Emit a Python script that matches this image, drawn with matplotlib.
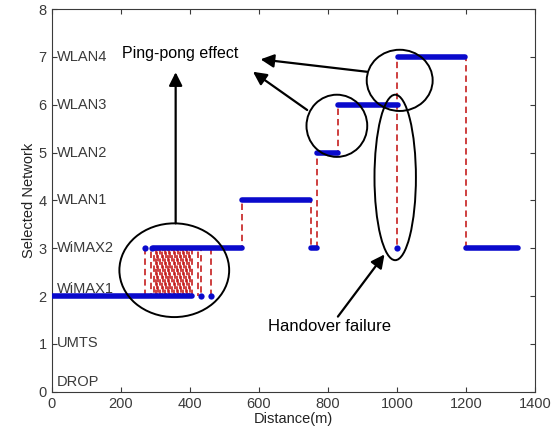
import matplotlib
matplotlib.use("Agg")
import matplotlib.pyplot as plt
from matplotlib.patches import Ellipse

# network names for levels 0..7
NETWORKS   = ["DROP", "UMTS", "WiMAX1", "WiMAX2", "WLAN1", "WLAN2", "WLAN3", "WLAN4"]
NET_LABEL_Y = [0.2, 1.02, 2.14, 3.0, 4.0, 5.0, 6.0, 7.0]

# selected-network runs: start distance, end distance, network level
SEG_START = [0,   297, 550, 752, 768, 830,  1003, 1200]
SEG_END   = [405, 550, 748, 768, 830, 1003, 1198, 1350]
SEG_LEVEL = [2,   3,   4,   3,   5,   6,    7,    3]

# isolated samples
DOT_X = [270, 290, 432, 462, 1000]
DOT_Y = [3,   3,   2,   2,   3]

# handovers: distance, from level, to level
HO_X  = [270, 287, 296, 301, 306, 309, 314, 318, 323, 327, 331, 336, 340, 344,
         349, 353, 357, 362, 366, 371, 375, 380, 384, 389, 393, 398, 402, 407,
         424, 433, 461, 550, 750, 768, 830, 1000, 1200]
HO_LO = [2] * 31 + [3, 3, 3, 5, 3, 3]
HO_HI = [3] * 31 + [4, 4, 5, 6, 7, 7]

X_TICKS = [0, 200, 400, 600, 800, 1000, 1200, 1400]
Y_TICKS = [0, 1, 2, 3, 4, 5, 6, 7, 8]

BLUE = "#0a0acc"
RED  = "#c41515"
GREY = "#3a3a3a"
TICK_FONT = ["Liberation Sans Narrow", "Liberation Sans", "DejaVu Sans"]

fig = plt.figure(figsize=(5.58, 4.34), dpi=100)
ax = fig.add_axes([0.0927, 0.0975, 0.8661, 0.8815])

# dashed handover lines, phase shifted so the ping-pong block is not striped
for i, (x, lo, hi) in enumerate(zip(HO_X, HO_LO, HO_HI)):
    ax.vlines(x, lo, hi, colors=RED, linestyles=((i % 3) * 2.2, (4, 2.5)),
              lw=1.15, zorder=2)
ax.hlines(SEG_LEVEL, SEG_START, SEG_END, colors=BLUE, lw=4, capstyle="round", zorder=3)
ax.plot(DOT_X, DOT_Y, "o", color=BLUE, ms=4.5, mec="none", zorder=3)

for name, yy in zip(NETWORKS, NET_LABEL_Y):
    ax.text(15, yy, name, ha="left", va="center", fontsize=10.5,
            color=GREY, family=TICK_FONT)

# highlighted regions
for (cx, cy, w, h) in [(355, 2.54, 318, 1.96), (826, 5.56, 176, 1.30),
                       (1008, 6.51, 191, 1.28), (995, 4.48, 120, 3.46)]:
    ax.add_patch(Ellipse((cx, cy), w, h, fill=False, ec="k", lw=1.4, zorder=4))

arrow = dict(arrowstyle="-|>", color="k", lw=1.6, mutation_scale=20,
             shrinkA=0, shrinkB=0)
ax.annotate("", xy=(359, 6.68), xytext=(359, 3.52), arrowprops=arrow)
ax.annotate("", xy=(605, 6.95), xytext=(913, 6.69), arrowprops=arrow)
ax.annotate("", xy=(583, 6.69), xytext=(740, 5.89), arrowprops=arrow)
ax.annotate("", xy=(964, 2.87), xytext=(829, 1.57), arrowprops=arrow)

ax.text(205, 7.07, "Ping-pong effect", ha="left", va="center", fontsize=11.5,
        family="Liberation Sans")
ax.text(627, 1.36, "Handover failure", ha="left", va="center", fontsize=12,
        family="Liberation Sans")

ax.set_xlim(0, 1400)
ax.set_ylim(0, 8)
ax.set_xticks(X_TICKS)
ax.set_yticks(Y_TICKS)
ax.tick_params(direction="in", length=3.5, top=True, right=True,
               labelsize=10.5, labelcolor=GREY, color=GREY)
for lab in ax.get_xticklabels() + ax.get_yticklabels():
    lab.set_family(TICK_FONT)
for s in ax.spines.values():
    s.set_color(GREY)
ax.set_xlabel("Distance(m)", fontsize=10.5, color="#222222", family=TICK_FONT, labelpad=1)
ax.set_ylabel("Selected Network", fontsize=10.5, color="#222222", family=TICK_FONT, labelpad=2)

fig.savefig("out.png", dpi=100)
